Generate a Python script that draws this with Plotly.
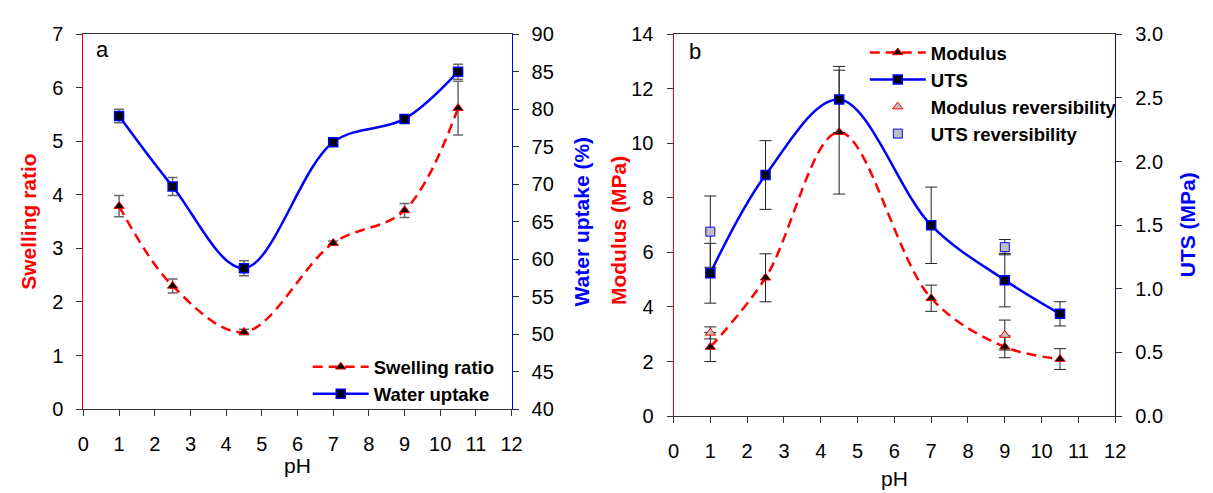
import plotly.graph_objects as go

# ---------------- data ----------------
ph = [1, 2.5, 4.5, 7, 9, 10.5]

swelling = [3.79, 2.30, 1.44, 3.10, 3.71, 5.62]
swelling_err = [0.20, 0.13, 0.05, 0.04, 0.13, 0.50]
water = [79.1, 69.7, 58.8, 75.6, 78.7, 85.0]
water_err = [0.9, 1.2, 1.0, 0.4, 0.5, 1.0]

modulus = [2.53, 5.07, 10.41, 4.32, 2.54, 2.09]
modulus_err = [0.53, 0.88, 2.27, 0.48, 0.40, 0.38]
uts = [1.122, 1.894, 2.487, 1.499, 1.068, 0.803]
uts_err = [0.235, 0.27, 0.26, 0.30, 0.21, 0.095]

ph_rev = [1, 9]
modulus_rev = [3.05, 2.97]
modulus_rev_err = [0.22, 0.55]
uts_rev = [1.449, 1.327]
uts_rev_err = [0.28, 0.06]

x_ticks = list(range(0, 13))

W, H = 1213, 493
FONT = "Arial, Liberation Sans, sans-serif"
RED = "#ff0000"
BLUE = "#0000ff"
GREY_FILL = "#c0c0c0"

def px(x):
    return x / W

def py(y):
    return 1 - y / H

fig = go.Figure()

# ---------------- panel a ----------------
fig.add_trace(go.Scatter(
    x=ph, y=swelling, name="Swelling ratio", mode="lines+markers",
    line=dict(color=RED, width=2.5, dash="10px,6px", shape="spline", smoothing=1),
    marker=dict(symbol="triangle-up", size=9, color="black", line=dict(color=RED, width=1)),
    error_y=dict(type="data", array=swelling_err, color="#6a6a6a", thickness=1.5, width=5),
    xaxis="x", yaxis="y", legend="legend"))
fig.add_trace(go.Scatter(
    x=ph, y=water, name="Water uptake", mode="lines+markers",
    line=dict(color=BLUE, width=2.5, shape="spline", smoothing=1),
    marker=dict(symbol="square", size=9, color="black", line=dict(color=BLUE, width=1.5)),
    error_y=dict(type="data", array=water_err, color="#6a6a6a", thickness=1.5, width=5),
    xaxis="x", yaxis="y2", legend="legend"))

# ---------------- panel b ----------------
fig.add_trace(go.Scatter(
    x=ph, y=modulus, name="Modulus", mode="lines+markers",
    line=dict(color=RED, width=2.5, dash="10px,6px", shape="spline", smoothing=1),
    marker=dict(symbol="triangle-up", size=9, color="black", line=dict(color=RED, width=1)),
    error_y=dict(type="data", array=modulus_err, color="#222222", thickness=1, width=6),
    xaxis="x2", yaxis="y3", legend="legend2"))
fig.add_trace(go.Scatter(
    x=ph, y=uts, name="UTS", mode="lines+markers",
    line=dict(color=BLUE, width=2.5, shape="spline", smoothing=1),
    marker=dict(symbol="square", size=9, color="black", line=dict(color=BLUE, width=1.5)),
    error_y=dict(type="data", array=uts_err, color="#222222", thickness=1, width=6),
    xaxis="x2", yaxis="y4", legend="legend2"))
fig.add_trace(go.Scatter(
    x=ph_rev, y=modulus_rev, name="Modulus reversibility", mode="markers",
    marker=dict(symbol="triangle-up", size=9, color=GREY_FILL, line=dict(color=RED, width=1)),
    error_y=dict(type="data", array=modulus_rev_err, color="#222222", thickness=1, width=6),
    xaxis="x2", yaxis="y3", legend="legend2"))
fig.add_trace(go.Scatter(
    x=ph_rev, y=uts_rev, name="UTS reversibility", mode="markers",
    marker=dict(symbol="square", size=9, color=GREY_FILL, line=dict(color=BLUE, width=1)),
    error_y=dict(type="data", array=uts_rev_err, color="#222222", thickness=1, width=6),
    xaxis="x2", yaxis="y4", legend="legend2"))

tickfont = dict(family=FONT, size=20, color="black")

def xax(domain, anchor):
    return dict(domain=domain, anchor=anchor, range=[0, 12], tickmode="array",
                tickvals=x_ticks, ticktext=[str(t) for t in x_ticks],
                showline=True, linecolor="#333333", linewidth=1, mirror=True,
                ticks="outside", ticklen=6, tickcolor="#333333", tickfont=tickfont,
                ticklabelstandoff=11, showgrid=False, zeroline=False, fixedrange=True)

def yax(domain, anchor, rng, dtick, color, side="left", overlaying=None, fmt=None):
    d = dict(domain=domain, anchor=anchor, range=rng, dtick=dtick, tick0=0,
             showline=True, linecolor=color, linewidth=1, side=side,
             ticks="outside", ticklen=6, tickcolor="#333333", tickfont=tickfont,
             ticklabelstandoff=9, showgrid=False, zeroline=False, fixedrange=True)
    if overlaying:
        d["overlaying"] = overlaying
    if fmt:
        d["tickformat"] = fmt
    return d

dom_xa = [px(78.5), px(512.8)]
dom_xb = [px(677), px(1125)]
dom_ya = [py(416.7), py(24.3)]
dom_yb = [py(424), py(24.3)]

legfont = dict(family=FONT, size=18.5, color="black", weight="bold")

fig.update_layout(
    width=W, height=H, margin=dict(l=0, r=0, t=0, b=0),
    paper_bgcolor="white", plot_bgcolor="white",
    font=dict(family=FONT, size=18, color="black"),
    xaxis=xax(dom_xa, "y"),
    xaxis2=xax(dom_xb, "y3"),
    yaxis=yax(dom_ya, "x", [0, 7], 1, RED),
    yaxis2=yax(dom_ya, "x", [40, 90], 5, BLUE, side="right", overlaying="y"),
    yaxis3=yax(dom_yb, "x2", [0, 14], 2, RED),
    yaxis4=yax(dom_yb, "x2", [0, 3], 0.5, BLUE, side="right", overlaying="y3", fmt=".1f"),
    legend=dict(x=px(306), y=py(353), xanchor="left", yanchor="top",
                bgcolor="rgba(0,0,0,0)", font=legfont, itemwidth=56, tracegroupgap=0),
    legend2=dict(x=px(871), y=py(24), xanchor="left", yanchor="top",
                 bgcolor="rgba(0,0,0,0)", font=legfont, itemwidth=56, tracegroupgap=0),
    showlegend=True,
)

ann = []
def add_text(text, x, y, color="black", size=20, bold=False, angle=0, xanchor="center"):
    ann.append(dict(text=text, x=px(x), y=py(y), xref="paper", yref="paper",
                    showarrow=False, textangle=angle, xanchor=xanchor, yanchor="middle",
                    font=dict(family=FONT, size=size, color=color, weight="bold" if bold else "normal")))

add_text("Swelling ratio", 22.5, 220.5, RED, 21, True, -90)
add_text("Water uptake (%)", 584, 220.5, BLUE, 21, True, -90)
add_text("Modulus (MPa)", 621, 230, RED, 21, True, -90)
add_text("UTS (MPa)", 1198, 224, BLUE, 21, True, -90)
add_text("pH", 295.6, 476, size=21)
add_text("pH", 901, 489, size=21)
add_text("a", 89, 40, size=22, xanchor="left")
add_text("b", 691, 42, size=22, xanchor="left")
fig.update_layout(annotations=ann)

fig.write_html("out.html")
